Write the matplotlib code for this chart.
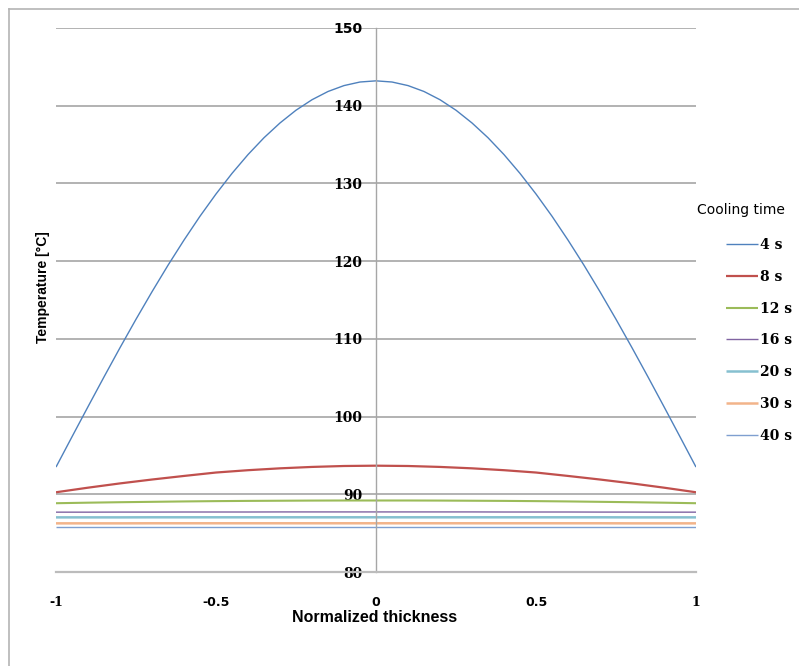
import matplotlib
matplotlib.use("Agg")
import matplotlib.pyplot as plt
from matplotlib.lines import Line2D

plt.rcParams['axes.unicode_minus'] = False

# ---- data ----
thickness_fine = [-1.0, -0.95, -0.9, -0.85, -0.8, -0.75, -0.7, -0.65, -0.6, -0.55, -0.5,
                  -0.45, -0.4, -0.35, -0.3, -0.25, -0.2, -0.15, -0.1, -0.05, 0.0,
                  0.05, 0.1, 0.15, 0.2, 0.25, 0.3, 0.35, 0.4, 0.45, 0.5,
                  0.55, 0.6, 0.65, 0.7, 0.75, 0.8, 0.85, 0.9, 0.95, 1.0]
thickness = [-1.0, -0.9, -0.8, -0.7, -0.6, -0.5, -0.4, -0.3, -0.2, -0.1, 0.0,
             0.1, 0.2, 0.3, 0.4, 0.5, 0.6, 0.7, 0.8, 0.9, 1.0]

t_4s = [93.5, 97.4, 101.27, 105.1, 108.86, 112.52, 116.06, 119.47, 122.71, 125.78, 128.64,
        131.29, 133.71, 135.88, 137.78, 139.42, 140.77, 141.83, 142.59, 143.05, 143.2,
        143.05, 142.59, 141.83, 140.77, 139.42, 137.78, 135.88, 133.71, 131.29, 128.64,
        125.78, 122.71, 119.47, 116.06, 112.52, 108.86, 105.1, 101.27, 97.4, 93.5]
t_8s = [90.26, 90.85, 91.4, 91.9, 92.36, 92.8, 93.1, 93.34, 93.52, 93.64, 93.68,
        93.64, 93.52, 93.34, 93.1, 92.8, 92.36, 91.9, 91.4, 90.85, 90.26]
t_12s = [88.85, 88.92, 88.98, 89.03, 89.08, 89.12, 89.15, 89.17, 89.19, 89.2, 89.2,
         89.2, 89.19, 89.17, 89.15, 89.12, 89.08, 89.03, 88.98, 88.92, 88.85]
t_16s = [87.7, 87.7, 87.71, 87.71, 87.72, 87.72, 87.72, 87.73, 87.73, 87.73, 87.73,
         87.73, 87.73, 87.73, 87.72, 87.72, 87.72, 87.71, 87.71, 87.7, 87.7]
t_20s = [87.03, 87.03, 87.03, 87.04, 87.04, 87.04, 87.04, 87.04, 87.04, 87.04, 87.04,
         87.04, 87.04, 87.04, 87.04, 87.04, 87.04, 87.04, 87.03, 87.03, 87.03]
t_30s = [86.26, 86.26, 86.26, 86.27, 86.27, 86.27, 86.27, 86.27, 86.27, 86.27, 86.27,
         86.27, 86.27, 86.27, 86.27, 86.27, 86.27, 86.27, 86.26, 86.26, 86.26]
t_40s = [85.75, 85.75, 85.75, 85.75, 85.75, 85.75, 85.75, 85.75, 85.75, 85.75, 85.75,
         85.75, 85.75, 85.75, 85.75, 85.75, 85.75, 85.75, 85.75, 85.75, 85.75]

series_labels = ['4 s', '8 s', '12 s', '16 s', '20 s', '30 s', '40 s']
series_x = [thickness_fine, thickness, thickness, thickness, thickness, thickness, thickness]
series_values = [t_4s, t_8s, t_12s, t_16s, t_20s, t_30s, t_40s]

x_ticks = [-1, -0.5, 0, 0.5, 1]
x_tick_labels = ['-1', '-0.5', '0', '0.5', '1']
y_ticks = [80, 90, 100, 110, 120, 130, 140, 150]
y_tick_labels = ['80', '90', '100', '110', '120', '130', '140', '150']

# ---- styles ----
colors = ['#4F81BD', '#C0504D', '#9BBB59', '#8064A2', '#86C0D0', '#F2B48A', '#7F9FD0']
widths = [1.0, 1.6, 1.5, 1.0, 1.8, 1.8, 1.0]

W, H = 799, 666
fig = plt.figure(figsize=(W / 100, H / 100), dpi=100)
fig.patch.set_facecolor('white')

# chart-area border (top and left edges visible; the rest is cropped)
fig.add_artist(Line2D([9 / W, 1.0], [1 - 9 / H, 1 - 9 / H], transform=fig.transFigure,
                      color='#b4b4b4', lw=1.2))
fig.add_artist(Line2D([9 / W, 9 / W], [0.0, 1 - 9 / H], transform=fig.transFigure,
                      color='#b4b4b4', lw=1.2))

ax = fig.add_axes([56 / W, 1 - 572 / H, 640 / W, 544 / H])

for lab, xs, vals, c, lw in zip(series_labels, series_x, series_values, colors, widths):
    ax.plot(xs, vals, color=c, lw=lw, label=lab, solid_capstyle='butt')

ax.set_xlim(-1, 1)
ax.set_ylim(80, 150)
ax.set_xticks(x_ticks)
ax.set_xticklabels(x_tick_labels)
ax.set_yticks(y_ticks)
ax.set_yticklabels(y_tick_labels)

ax.yaxis.grid(True, color='#a6a6a6', lw=1.2)
ax.set_axisbelow(True)

for s in ['top', 'right']:
    ax.spines[s].set_visible(False)
ax.spines['left'].set_position(('data', 0))
ax.spines['left'].set_color('#a6a6a6')
ax.spines['left'].set_linewidth(1.0)
ax.spines['bottom'].set_color('#bcbcbc')
ax.spines['bottom'].set_linewidth(1.6)

ax.tick_params(axis='both', length=0)
ax.tick_params(axis='y', pad=10)
ax.tick_params(axis='x', pad=17)

for t in ax.get_yticklabels():
    if t.get_text() == '150':
        t.set_fontfamily('DejaVu Sans')
    else:
        t.set_fontfamily('DejaVu Serif')
    t.set_fontweight('bold')
    t.set_fontsize(10)
for t in ax.get_xticklabels():
    if t.get_text() in ('-1', '1'):
        t.set_fontfamily('DejaVu Serif')
    else:
        t.set_fontfamily('DejaVu Sans')
    t.set_fontweight('bold')
    t.set_fontsize(9)

fig.text(375 / W, 1 - 618 / H, 'Normalized thickness', ha='center', va='center',
         fontsize=11.5, fontweight='bold', family='Liberation Sans')
fig.text(43 / W, 1 - 287 / H, 'Temperature [°C]', ha='center', va='center',
         rotation=90, fontsize=10, fontweight='bold', family='Liberation Sans')

fig.text(697 / W, 1 - 210 / H, 'Cooling time', ha='left', va='center',
         fontsize=10, family='DejaVu Sans')

leg = ax.legend(loc='upper left', bbox_to_anchor=(726 / W, 1 - 238 / H),
                bbox_transform=fig.transFigure, frameon=False,
                handlelength=2.3, handletextpad=0.15, labelspacing=1.28,
                borderpad=0, borderaxespad=0,
                prop={'family': 'DejaVu Serif', 'weight': 'bold', 'size': 10})

fig.savefig('out.png', dpi=100)
